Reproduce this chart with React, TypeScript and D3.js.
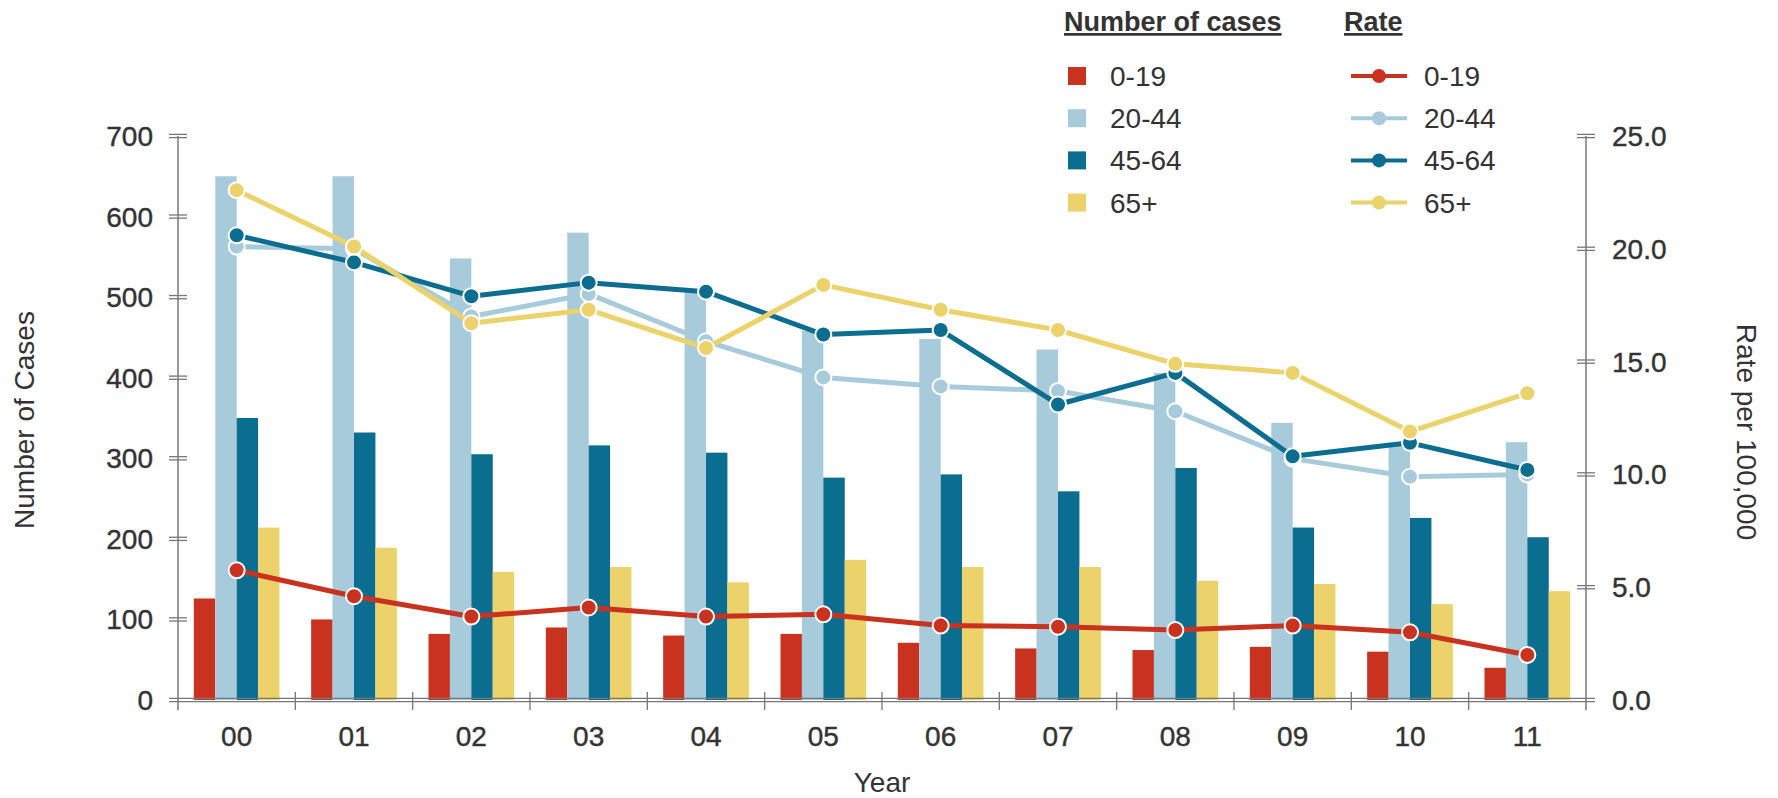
import { line, scaleBand, scaleLinear } from "d3";

const years = ["00", "01", "02", "03", "04", "05", "06", "07", "08", "09", "10", "11"];
const groups = ["0-19", "20-44", "45-64", "65+"];
const colors = ["#c8321e", "#a8cbdc", "#0b6d90", "#ebd26a"];

const cases0to19 = [126, 100, 82, 90, 80, 82, 71, 64, 62, 66, 60, 40];
const cases20to44 = [650, 650, 548, 580, 508, 458, 448, 435, 406, 344, 315, 320];
const cases45to64 = [350, 332, 305, 316, 307, 276, 280, 259, 288, 214, 226, 202];
const cases65plus = [214, 189, 159, 165, 146, 174, 165, 165, 148, 144, 119, 135];

const rate0to19 = [5.75, 4.6, 3.7, 4.1, 3.7, 3.8, 3.3, 3.25, 3.1, 3.3, 3.0, 2.0];
const rate20to44 = [20.1, 20.0, 17.0, 18.0, 15.9, 14.3, 13.9, 13.7, 12.8, 10.7, 9.9, 10.0];
const rate45to64 = [20.6, 19.4, 17.9, 18.5, 18.1, 16.2, 16.4, 13.1, 14.5, 10.8, 11.4, 10.2];
const rate65plus = [22.6, 20.1, 16.7, 17.3, 15.6, 18.4, 17.3, 16.4, 14.9, 14.5, 11.9, 13.6];

const leftTicks = [0, 100, 200, 300, 400, 500, 600, 700];
const rightTicks = [0, 5, 10, 15, 20, 25];

const cases = [cases0to19, cases20to44, cases45to64, cases65plus];
const rates = [rate0to19, rate20to44, rate45to64, rate65plus];

const width = 1778;
const height = 798;
const left = 178;
const right = 1586;
const bottom = 700;
const top = 136;
const font = "'Liberation Sans', Arial, sans-serif";
const axisColor = "#777";
const textColor = "#333";

export default function App() {
  const x = scaleBand<string>().domain(years).range([left, right]).paddingInner(0.27).paddingOuter(0.135);
  const step = x.step();
  const xg = scaleBand<string>().domain(groups).range([0, x.bandwidth()]);
  const y = scaleLinear().domain([0, 700]).range([bottom, top]);
  const yr = scaleLinear().domain([0, 25]).range([bottom, top]);
  const cx = (yr0: string) => (x(yr0) ?? 0) + x.bandwidth() / 2;
  const rateLine = line<number>()
    .x((_, i) => cx(years[i]))
    .y((d) => yr(d));

  // double-stroke tick, as in the original
  const dbl = (x1: number, x2: number, yy: number, key: string) => (
    <g key={key} stroke={axisColor} strokeWidth={1.3}>
      <line x1={x1} x2={x2} y1={yy - 1.6} y2={yy - 1.6} />
      <line x1={x1} x2={x2} y1={yy + 1.6} y2={yy + 1.6} />
    </g>
  );

  return (
    <svg width={width} height={height} style={{ position: "absolute", left: 0, top: 0, background: "#fff" }} fontFamily={font}>
      {/* bars */}
      {years.map((yy, i) => (
        <g key={yy} transform={`translate(${x(yy)},0)`}>
          {groups.map((g, k) => (
            <rect key={g} x={xg(g)} width={xg.bandwidth()} y={y(cases[k][i])} height={bottom - y(cases[k][i])} fill={colors[k]} />
          ))}
        </g>
      ))}

      {/* x axis */}
      {dbl(169, right + 9, bottom, "xaxis")}
      {years.map((yy, i) => {
        if (i === 0) return null;
        const bx = (x(yy) ?? 0) - step * 0.135;
        return <line key={"t" + yy} x1={bx} x2={bx} y1={bottom - 8} y2={bottom + 10} stroke={axisColor} strokeWidth={1.3} />;
      })}
      <g fill={textColor} stroke={textColor} strokeWidth={0.4} fontSize={28}>
        {years.map((yy) => (
          <text key={"l" + yy} x={cx(yy)} y={746} textAnchor="middle">
            {yy}
          </text>
        ))}
      </g>

      {/* left axis */}
      <line x1={left} x2={left} y1={top} y2={bottom + 10} stroke={axisColor} strokeWidth={1.5} />
      {leftTicks.map((t) => (t === 0 ? null : dbl(169, 187, y(t), "ly" + t)))}
      <g fill={textColor} stroke={textColor} strokeWidth={0.4} fontSize={28}>
        {leftTicks.map((t) => (
          <text key={"lt" + t} x={153} y={y(t) + 10} textAnchor="end">
            {t}
          </text>
        ))}
      </g>

      {/* right axis */}
      <line x1={right} x2={right} y1={top} y2={bottom + 10} stroke={axisColor} strokeWidth={1.5} />
      {rightTicks.map((t) => (t === 0 ? null : dbl(right - 9, right + 9, yr(t), "ry" + t)))}
      <g fill={textColor} stroke={textColor} strokeWidth={0.4} fontSize={28}>
        {rightTicks.map((t) => (
          <text key={"rt" + t} x={1612} y={yr(t) + 10}>
            {t.toFixed(1)}
          </text>
        ))}
      </g>

      {/* rate lines */}
      {rates.map((r, k) => (
        <g key={"rl" + k}>
          <path d={rateLine(r) ?? ""} fill="none" stroke={colors[k]} strokeWidth={5} strokeLinejoin="round" />
          {r.map((v, i) => (
            <circle key={i} cx={cx(years[i])} cy={yr(v)} r={8} fill={colors[k]} stroke="#fff" strokeWidth={2} />
          ))}
        </g>
      ))}

      {/* axis titles */}
      <text transform="translate(34,420) rotate(-90)" textAnchor="middle" fontSize={28} fill={textColor}>
        Number of Cases
      </text>
      <text transform="translate(1737,432) rotate(90)" textAnchor="middle" fontSize={28} fill={textColor}>
        Rate per 100,000
      </text>
      <text x={(left + right) / 2} y={792} textAnchor="middle" fontSize={28} fill={textColor}>
        Year
      </text>

      {/* legend */}
      <text x={1064} y={31} fontSize={27} fontWeight="bold" fill={textColor} textDecoration="underline">
        Number of cases
      </text>
      <text x={1344} y={31} fontSize={27} fontWeight="bold" fill={textColor} textDecoration="underline">
        Rate
      </text>
      {groups.map((g, k) => {
        const ly = 76 + k * 42.2;
        return (
          <g key={"lg" + g}>
            <rect x={1068} y={ly - 9} width={18} height={18} fill={colors[k]} />
            <text x={1110} y={ly + 10} fontSize={28} fill={textColor}>
              {g}
            </text>
            <line x1={1351} x2={1407} y1={ly} y2={ly} stroke={colors[k]} strokeWidth={4} />
            <circle cx={1379} cy={ly} r={7} fill={colors[k]} />
            <text x={1424} y={ly + 10} fontSize={28} fill={textColor}>
              {g}
            </text>
          </g>
        );
      })}
    </svg>
  );
}
